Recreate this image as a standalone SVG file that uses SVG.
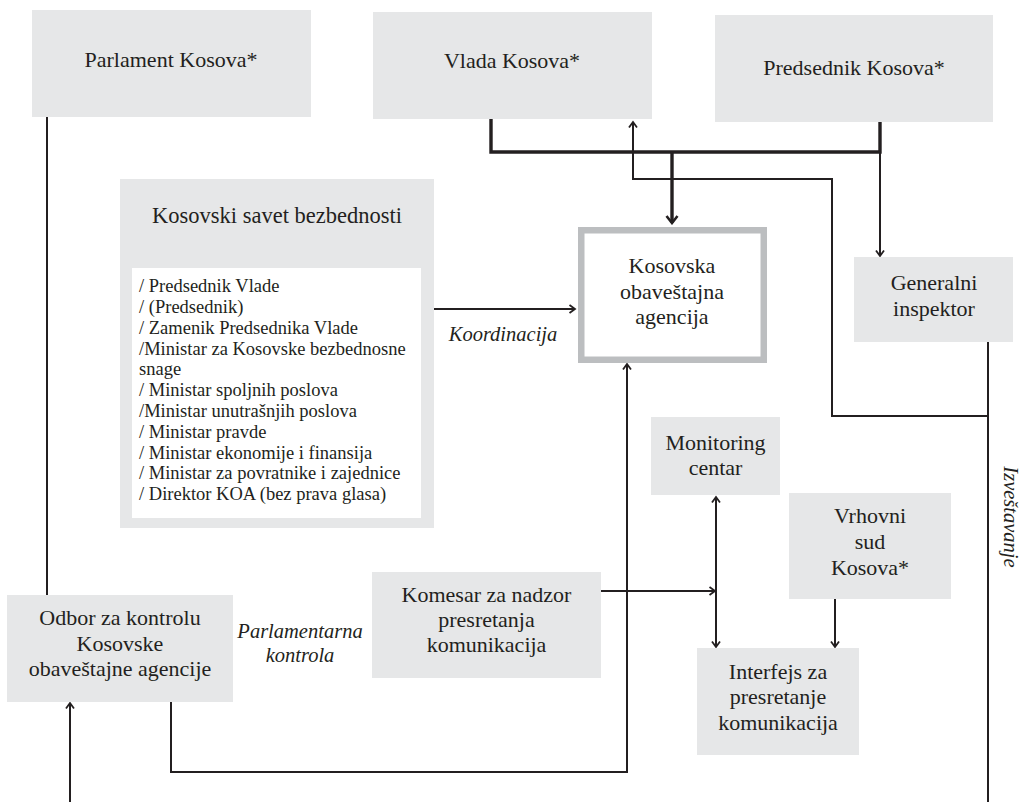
<svg xmlns="http://www.w3.org/2000/svg" width="1022" height="808" viewBox="0 0 1022 808">
<style>
.box{fill:#e6e7e8}
.lbl{font-family:"Liberation Serif","Times New Roman",serif;font-size:22px;fill:#231f20;text-anchor:middle}
.lst{font-family:"Liberation Serif","Times New Roman",serif;font-size:18.5px;fill:#231f20}
.it{font-family:"Liberation Serif","Times New Roman",serif;font-size:20.5px;font-style:italic;fill:#231f20;text-anchor:middle}
.thin{fill:none;stroke:#231f20;stroke-width:2}
.thick{fill:none;stroke:#231f20;stroke-width:3.4}
</style>
<defs>
<marker id="a" markerUnits="userSpaceOnUse" markerWidth="12" markerHeight="12" viewBox="0 0 12 12" refX="10" refY="6" orient="auto-start-reverse">
<path d="M4.5,2 L10,6 L4.5,10" fill="none" stroke="#231f20" stroke-width="1.8"/>
</marker>
<marker id="A" markerUnits="userSpaceOnUse" markerWidth="16" markerHeight="16" viewBox="0 0 16 16" refX="14" refY="8" orient="auto">
<path d="M7,2.5 L14,8 L7,13.5" fill="none" stroke="#231f20" stroke-width="2.6"/>
</marker>
</defs>
<rect width="1022" height="808" fill="#ffffff"/>
<g id="connectors">
<path class="thin" d="M47,117 V595"/>
<path class="thick" d="M491,119 V152 H880 V122"/>
<path class="thick" d="M672,152 V223" marker-end="url(#A)"/>
<path class="thin" d="M880,152 V256" marker-end="url(#a)"/>
<path class="thin" d="M988,341 V802"/>
<path class="thin" d="M988,416 H832 V179 H633 V122" marker-end="url(#a)"/>
<path class="thin" d="M433,309 H575" marker-end="url(#a)"/>
<path class="thin" d="M171,702 V772 H627 V364" marker-end="url(#a)"/>
<path class="thin" d="M70,802 V703" marker-end="url(#a)"/>
<path class="thin" d="M601,591 H715" marker-end="url(#a)"/>
<path class="thin" d="M716,497 V647" marker-start="url(#a)" marker-end="url(#a)"/>
<path class="thin" d="M835,599 V647" marker-end="url(#a)"/>
</g>
<g id="parlament">
<rect class="box" x="32" y="10" width="279" height="107"/>
<text class="lbl" x="171" y="67">Parlament Kosova*</text>
</g>
<g id="vlada">
<rect class="box" x="373" y="12" width="279" height="107"/>
<text class="lbl" x="512" y="68">Vlada Kosova*</text>
</g>
<g id="predsednik">
<rect class="box" x="715" y="15" width="278" height="107"/>
<text class="lbl" x="854" y="75">Predsednik Kosova*</text>
</g>
<g id="ksb">
<rect class="box" x="120" y="179" width="314" height="349"/>
<rect x="132" y="268" width="289" height="250" fill="#ffffff"/>
<text class="lbl" x="277" y="223" style="font-size:22.5px">Kosovski savet bezbednosti</text>
<text class="lst">
<tspan x="139" y="292">/ Predsednik Vlade</tspan>
<tspan x="139" y="313">/ (Predsednik)</tspan>
<tspan x="139" y="333.5">/ Zamenik Predsednika Vlade</tspan>
<tspan x="139" y="354.5">/Ministar za Kosovske bezbednosne</tspan>
<tspan x="139" y="375">snage</tspan>
<tspan x="139" y="396">/ Ministar spoljnih poslova</tspan>
<tspan x="139" y="417">/Ministar unutrašnjih poslova</tspan>
<tspan x="139" y="437.5">/ Ministar pravde</tspan>
<tspan x="139" y="458.5">/ Ministar ekonomije i finansija</tspan>
<tspan x="139" y="479">/ Ministar za povratnike i zajednice</tspan>
<tspan x="139" y="500">/ Direktor KOA (bez prava glasa)</tspan>
</text>
</g>
<g id="koa">
<rect x="581.25" y="230.25" width="182.5" height="129.5" fill="#ffffff" stroke="#bcbec0" stroke-width="6.5"/>
<text class="lbl" x="672" y="273">Kosovska</text>
<text class="lbl" x="672" y="298.5">obaveštajna</text>
<text class="lbl" x="672" y="324">agencija</text>
</g>
<g id="generalni">
<rect class="box" x="854" y="257" width="159" height="85"/>
<text class="lbl" x="934" y="290">Generalni</text>
<text class="lbl" x="934" y="316">inspektor</text>
</g>
<g id="monitoring">
<rect class="box" x="651" y="417" width="129" height="78"/>
<text class="lbl" x="715.5" y="450">Monitoring</text>
<text class="lbl" x="715.5" y="475">centar</text>
</g>
<g id="vrhovni">
<rect class="box" x="789" y="493" width="162" height="106"/>
<text class="lbl" x="870" y="523">Vrhovni</text>
<text class="lbl" x="870" y="549">sud</text>
<text class="lbl" x="870" y="575">Kosova*</text>
</g>
<g id="komesar">
<rect class="box" x="372" y="572" width="229" height="106"/>
<text class="lbl" x="486.5" y="602">Komesar za nadzor</text>
<text class="lbl" x="486.5" y="627">presretanja</text>
<text class="lbl" x="486.5" y="652">komunikacija</text>
</g>
<g id="odbor">
<rect class="box" x="7" y="595" width="226" height="107"/>
<text class="lbl" x="120" y="625">Odbor za kontrolu</text>
<text class="lbl" x="120" y="651">Kosovske</text>
<text class="lbl" x="120" y="676">obaveštajne agencije</text>
</g>
<g id="interfejs">
<rect class="box" x="697" y="648" width="162" height="107"/>
<text class="lbl" x="778" y="679">Interfejs za</text>
<text class="lbl" x="778" y="704">presretanje</text>
<text class="lbl" x="778" y="730">komunikacija</text>
</g>
<g id="labels">
<text class="it" x="503" y="341">Koordinacija</text>
<text class="it" x="300" y="638">Parlamentarna</text>
<text class="it" x="300" y="662">kontrola</text>
<text class="it" transform="translate(1004,517) rotate(90)" x="0" y="0">Izveštavanje</text>
</g>
</svg>
